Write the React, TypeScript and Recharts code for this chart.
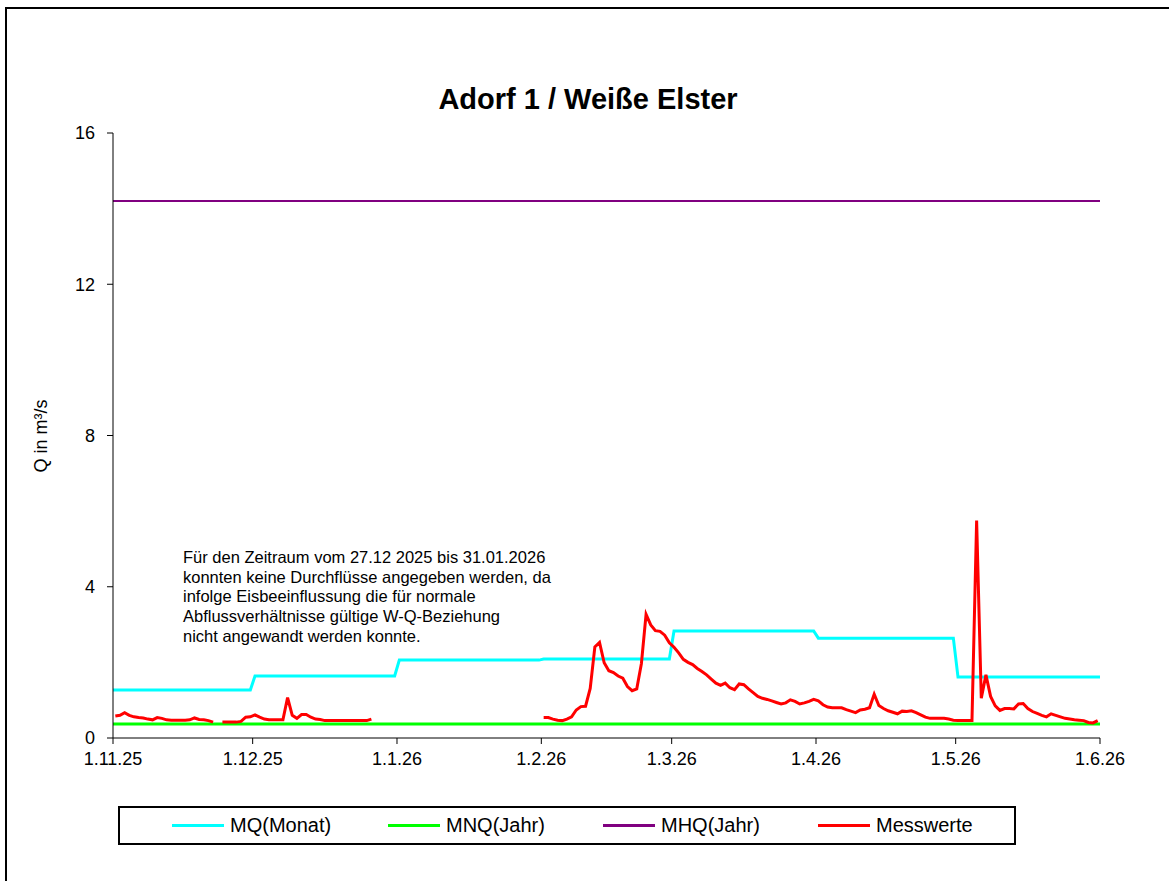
import { LineChart, Line, XAxis, YAxis } from "recharts";

// x-Achse: Tage ab 1.11.25 (Tagesmitte = Tag + 0.5)
const X_TICKS = [0, 30, 61, 92, 120, 151, 181, 212];
const X_LABELS = ["1.11.25", "1.12.25", "1.1.26", "1.2.26", "1.3.26", "1.4.26", "1.5.26", "1.6.26"];
const Y_TICKS = [0, 4, 8, 12, 16];

// Monatsgrenzen (Tagindex) und MQ je Monat
const MONTH_STARTS = [0, 30, 61, 92, 120, 151, 181];
const MONTH_ENDS = [30, 61, 92, 120, 151, 181, 212];
const MQ_MONAT = [1.27, 1.64, 2.06, 2.09, 2.83, 2.64, 1.61];

const MNQ_JAHR = 0.37;
const MHQ_JAHR = 14.2;

// Tageswerte Messwerte (null = keine Angabe)
const MESS_NOV = [
  0.58, 0.6, 0.67, 0.6, 0.56, 0.54, 0.53, 0.5, 0.48, 0.54,
  0.52, 0.48, 0.47, 0.47, 0.47, 0.47, 0.48, 0.53, 0.49, 0.48,
  0.46, 0.42, null, 0.42, 0.42, 0.42, 0.42, 0.44, 0.55, 0.56,
];
const MESS_DEC = [
  0.61, 0.55, 0.5, 0.48, 0.48, 0.48, 0.48, 1.07, 0.6, 0.52,
  0.62, 0.62, 0.55, 0.5, 0.49, 0.46, 0.46, 0.46, 0.46, 0.46,
  0.46, 0.46, 0.46, 0.46, 0.46, 0.5, null, null, null, null, null,
];
const MESS_JAN = Array(31).fill(null);
const MESS_FEB = [
  0.54, 0.54, 0.5, 0.47, 0.46, 0.5, 0.56, 0.74, 0.83, 0.84,
  1.31, 2.41, 2.53, 1.99, 1.78, 1.73, 1.64, 1.58, 1.36, 1.25,
  1.3, 1.97, 3.27, 2.99, 2.84, 2.82, 2.72, 2.52,
];
const MESS_MAR = [
  2.4, 2.25, 2.08, 2.0, 1.94, 1.84, 1.76, 1.67, 1.56, 1.45,
  1.39, 1.45, 1.33, 1.28, 1.43, 1.41, 1.3, 1.2, 1.1, 1.05,
  1.02, 0.98, 0.94, 0.9, 0.93, 1.01, 0.97, 0.9, 0.93, 0.97,
  1.02,
];
const MESS_APR = [
  0.98, 0.88, 0.82, 0.8, 0.8, 0.8, 0.75, 0.71, 0.67, 0.74,
  0.76, 0.8, 1.16, 0.86, 0.78, 0.72, 0.68, 0.64, 0.71, 0.7,
  0.72, 0.67, 0.61, 0.55, 0.52, 0.52, 0.52, 0.52, 0.5, 0.47,
];
const MESS_MAY = [
  0.46, 0.46, 0.46, 0.46, 5.75, 1.05, 1.67, 1.1, 0.85, 0.73,
  0.78, 0.78, 0.77, 0.9, 0.91, 0.78, 0.7, 0.65, 0.6, 0.56,
  0.64, 0.6, 0.56, 0.52, 0.5, 0.48, 0.47, 0.46, 0.41, 0.4,
  0.46,
];

const NOTE_LINES = [
  "Für den Zeitraum vom 27.12 2025 bis 31.01.2026",
  "konnten keine Durchflüsse angegeben werden, da",
  "infolge Eisbeeinflussung die für normale",
  "Abflussverhältnisse gültige W-Q-Beziehung",
  "nicht angewandt werden konnte.",
];

const SERIES = [
  { name: "MQ(Monat)", color: "#00ffff" },
  { name: "MNQ(Jahr)", color: "#00ff00" },
  { name: "MHQ(Jahr)", color: "#800080" },
  { name: "Messwerte", color: "#ff0000" },
];

const FONT = "'Liberation Sans', Arial, sans-serif";

const messData = [...MESS_NOV, ...MESS_DEC, ...MESS_JAN, ...MESS_FEB, ...MESS_MAR, ...MESS_APR, ...MESS_MAY].map(
  (q, i) => ({ x: i + 0.5, q })
);

const mqData = [{ x: 0, q: MQ_MONAT[0] }];
MQ_MONAT.forEach((q, i) => {
  mqData.push({ x: MONTH_STARTS[i] + 0.5, q });
  mqData.push({ x: MONTH_ENDS[i] - 0.5, q });
});
mqData.push({ x: 212, q: MQ_MONAT[MQ_MONAT.length - 1] });

const mnqData = [{ x: 0, q: MNQ_JAHR }, { x: 212, q: MNQ_JAHR }];
const mhqData = [{ x: 0, q: MHQ_JAHR }, { x: 212, q: MHQ_JAHR }];

const LEGEND_LEFT = [52, 268, 483, 698];

const App = () => {
  return (
    <div style={{ position: "fixed", left: 0, top: 0, width: 1169, height: 881, overflow: "hidden", background: "#fff", fontFamily: FONT }}>
      {/* äußerer Rahmen */}
      <div style={{ position: "absolute", left: 5, top: 7, width: 1300, height: 1000, border: "2px solid #000" }} />

      <div style={{ position: "absolute", left: 0, top: 0 }}>
        <LineChart width={1169} height={881} margin={{ top: 133, right: 69, bottom: 113, left: 53 }}>
          <XAxis
            dataKey="x"
            type="number"
            domain={[0, 212]}
            ticks={X_TICKS}
            tickFormatter={(v) => X_LABELS[X_TICKS.indexOf(v)]}
            height={30}
            stroke="#000"
            tick={{ fill: "#000", fontSize: 18, fontFamily: FONT }}
            tickMargin={8}
            allowDataOverflow
          />
          <YAxis
            type="number"
            domain={[0, 16]}
            ticks={Y_TICKS}
            width={60}
            stroke="#000"
            tick={{ fill: "#000", fontSize: 18, fontFamily: FONT }}
            tickMargin={12}
          />
          <Line data={mqData} dataKey="q" stroke="#00ffff" strokeWidth={3} dot={false} isAnimationActive={false} />
          <Line data={mnqData} dataKey="q" stroke="#00ff00" strokeWidth={3} dot={false} isAnimationActive={false} />
          <Line data={mhqData} dataKey="q" stroke="#800080" strokeWidth={2} dot={false} isAnimationActive={false} />
          <Line data={messData} dataKey="q" stroke="#ff0000" strokeWidth={3} dot={false} connectNulls={false} isAnimationActive={false} />
        </LineChart>
      </div>

      {/* Titel */}
      <div style={{ position: "absolute", left: 288, width: 600, top: 83, textAlign: "center", fontSize: 29, fontWeight: "bold" }}>
        Adorf 1 / Weiße Elster
      </div>

      {/* y-Achsentitel */}
      <div style={{ position: "absolute", left: 41, top: 436, transform: "translate(-50%, -50%) rotate(-90deg)", whiteSpace: "nowrap", fontSize: 18 }}>
        Q in m³/s
      </div>

      {/* Hinweis */}
      <div style={{ position: "absolute", left: 183, top: 548, fontSize: 16.5, lineHeight: "19.7px", whiteSpace: "nowrap" }}>
        {NOTE_LINES.map((l) => (
          <div key={l}>{l}</div>
        ))}
      </div>

      {/* Legende */}
      <div style={{ position: "absolute", left: 118, top: 806, width: 898, height: 39, border: "2px solid #000", boxSizing: "border-box" }}>
        {SERIES.map((s, i) => (
          <div key={s.name} style={{ position: "absolute", left: LEGEND_LEFT[i], top: 0, height: 35, display: "flex", alignItems: "center" }}>
            <div style={{ width: 52, height: 3, background: s.color, marginRight: 6 }} />
            <span style={{ fontSize: 20 }}>{s.name}</span>
          </div>
        ))}
      </div>
    </div>
  );
};

export default App;
